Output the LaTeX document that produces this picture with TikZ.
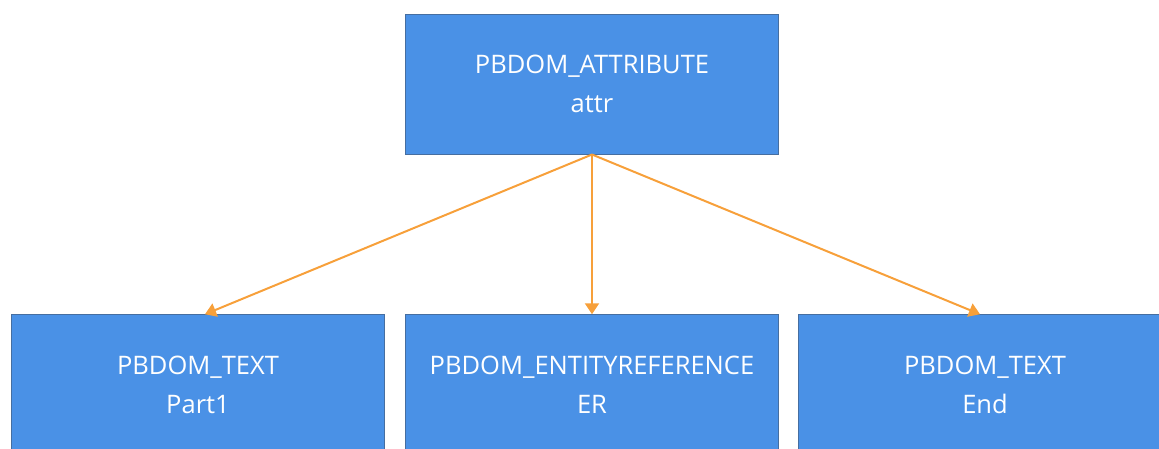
\documentclass[tikz,border=0pt]{standalone}
\usepackage{fontspec}
\setmainfont{Open Sans}
\usetikzlibrary{arrows.meta, positioning}

\definecolor{boxblue}{RGB}{74,145,230}
\definecolor{boxedge}{RGB}{70,110,160}
\definecolor{linkorange}{RGB}{247,160,58}

\begin{document}
\begin{tikzpicture}[
    x=1pt, y=-1pt,
    domnode/.style={
        rectangle, draw=boxedge, fill=boxblue, line width=1pt,
        minimum width=373pt, minimum height=139.5pt,
        text=white, align=center, font=\fontsize{25.5}{39}\selectfont
    },
    link/.style={-{Triangle[length=11pt, width=14pt]}, draw=linkorange, line width=2pt},
]

\useasboundingbox (0,0) rectangle (1159,448);
\clip (0,0) rectangle (1159,448);

% Parent attribute
\node[domnode] (attr) at (592, 84.25) {PBDOM\_ATTRIBUTE\\attr};

% Children
\node[domnode] (part)   at (198, 384.5) {PBDOM\_TEXT\\Part1};
\node[domnode] (entref) at (592, 384.5) {PBDOM\_ENTITYREFERENCE\\ER};
\node[domnode] (endtxt) at (985, 384.5) {PBDOM\_TEXT\\End};

% Links from attribute to its children
\draw[link] (attr.south) -- ([xshift=7pt]part.north);
\draw[link] (attr.south) -- (entref.north);
\draw[link] (attr.south) -- ([xshift=-5pt]endtxt.north);

\end{tikzpicture}
\end{document}
